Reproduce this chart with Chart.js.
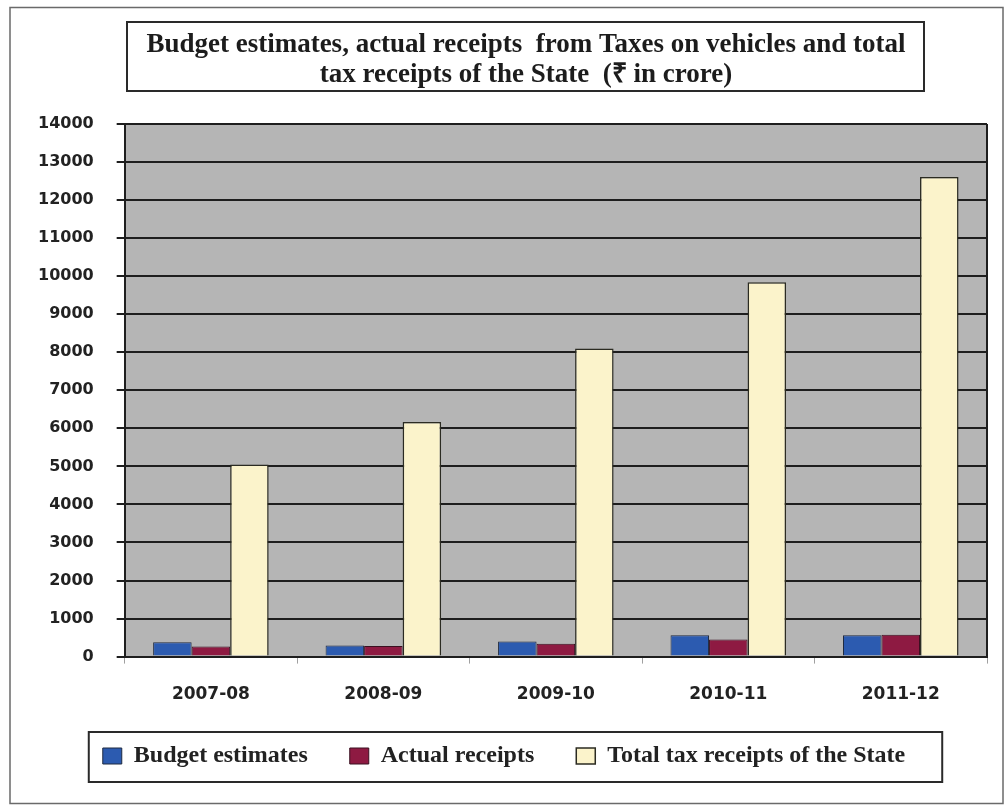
<!DOCTYPE html>
<html>
<head>
<meta charset="utf-8">
<title>Taxes on vehicles</title>
<script src="https://cdn.jsdelivr.net/npm/chart.js@4.4.1/dist/chart.umd.min.js"></script>
<style>
	html, body { margin: 0; padding: 0; background: #fff; }
	canvas { display: block; }
</style>
</head>
<body>
<canvas id="grafica" width="1007" height="812"></canvas>
<script>
// years and amounts (Rs in crore)
const years = ["2007-08", "2008-09", "2009-10", "2010-11", "2011-12"];
const budgetEstimates = [375, 290, 400, 560, 560];
const actualReceipts = [265, 280, 340, 450, 575];
const totalTaxReceipts = [5050, 6165, 8100, 9840, 12610];
const yMax = 14000;
const yStep = 1000;

const titleLines = [
	"Budget estimates, actual receipts  from Taxes on vehicles and total",
	"tax receipts of the State  (\u20B9 in crore)",
];

// frame, grey plot background, title box and legend box
const decoraciones = {
	id: "decoraciones",
	afterLayout(chart) {
		// nudge the legend into place
		const lg = chart.legend;
		lg.left += 3;
		lg.right += 3;
		lg.top -= 24;
		lg.bottom -= 24;
	},
	beforeDraw(chart) {
		const c = chart.ctx;
		const a = chart.chartArea;
		c.save();
		c.fillStyle = "#ffffff";
		c.fillRect(0, 0, chart.width, chart.height);
		c.strokeStyle = "#6a6a6a";
		c.lineWidth = 1.5;
		c.strokeRect(10, 7.5, 993, 796);
		c.fillStyle = "#b5b5b5";
		c.fillRect(a.left, a.top, a.right - a.left, a.bottom - a.top);
		c.restore();
	},
	afterDraw(chart) {
		const c = chart.ctx;
		const a = chart.chartArea;
		c.save();
		// plot frame right edge
		c.strokeStyle = "#1e1e1e";
		c.lineWidth = 2;
		c.beginPath();
		c.moveTo(a.right, a.top);
		c.lineTo(a.right, a.bottom);
		c.stroke();

		// title
		c.fillStyle = "#1c1c1c";
		c.font = 'bold 27px "Liberation Serif", serif';
		c.textAlign = "center";
		c.textBaseline = "middle";
		c.fillText(titleLines[0], 526, 45);
		c.fillText(titleLines[1], 526, 75);
		c.strokeStyle = "#2a2a2a";
		c.lineWidth = 2;
		c.strokeRect(127, 22, 797, 69);

		// legend box
		const cajas = chart.legend.legendHitBoxes;
		if (cajas && cajas.length) {
			const izq = Math.min(...cajas.map((b) => b.left)) - 14;
			const der = Math.max(...cajas.map((b) => b.left + b.width)) + 37;
			const medio = cajas[0].top + cajas[0].height / 2;
			c.strokeRect(izq, medio - 24, der - izq, 50);
		}
		c.restore();
	},
};

const ctx = document.getElementById("grafica");

new Chart(ctx, {
	type: "bar",
	data: {
		labels: years,
		datasets: [
			{
				label: "Budget estimates",
				data: budgetEstimates,
				backgroundColor: "#2c5bb0",
				borderColor: "#1f2a40",
				borderWidth: 1,
			},
			{
				label: "Actual receipts",
				data: actualReceipts,
				backgroundColor: "#8e1a42",
				borderColor: "#3a1020",
				borderWidth: 1,
			},
			{
				label: "Total tax receipts of the State",
				data: totalTaxReceipts,
				backgroundColor: "#fbf3cb",
				borderColor: "#2b2b22",
				borderWidth: 1.5,
			},
		],
	},
	options: {
		responsive: false,
		animation: false,
		devicePixelRatio: 1,
		layout: {
			padding: { top: 124, left: 15, right: 20, bottom: 10 },
		},
		datasets: {
			bar: {
				categoryPercentage: 0.67,
				barPercentage: 1,
				borderSkipped: "start",
			},
		},
		scales: {
			x: {
				grid: {
					drawOnChartArea: false,
					tickLength: 7,
					color: "#a0a0a0",
				},
				border: { color: "#1e1e1e", width: 2 },
				ticks: {
					color: "#222",
					padding: 21,
					font: { family: "DejaVu Sans", size: 17, weight: "bold" },
				},
			},
			y: {
				min: 0,
				max: yMax,
				grid: {
					color: "#1e1e1e",
					lineWidth: 2,
					tickLength: 8,
				},
				border: { color: "#1e1e1e", width: 2 },
				ticks: {
					stepSize: yStep,
					color: "#222",
					padding: 23,
					font: { family: "DejaVu Sans", size: 16, weight: "bold" },
					callback: (v) => String(v),
				},
			},
		},
		plugins: {
			title: { display: false },
			tooltip: { enabled: false },
			legend: {
				position: "bottom",
				labels: {
					color: "#222",
					boxWidth: 19,
					boxHeight: 16,
					padding: 42,
					font: { family: "Liberation Serif", size: 24, weight: "bold" },
				},
			},
		},
	},
	plugins: [decoraciones],
});
</script>
</body>
</html>
